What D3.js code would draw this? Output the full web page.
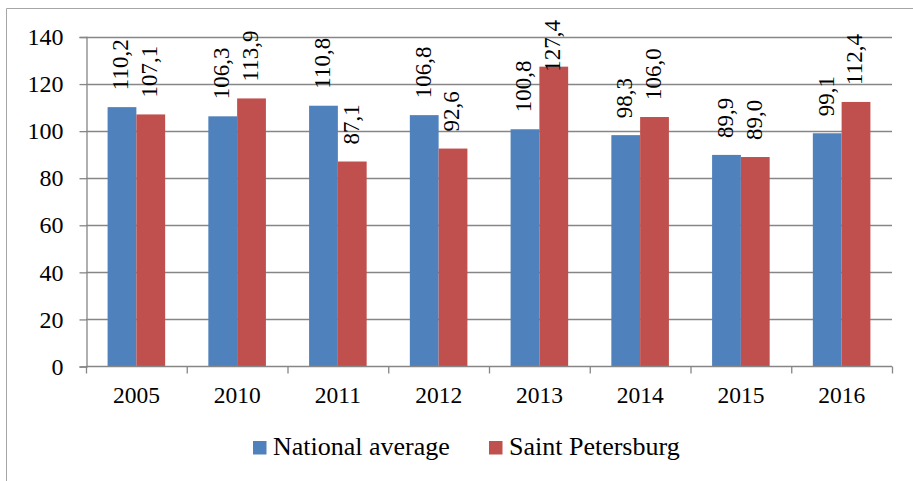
<!DOCTYPE html>
<html>
<head>
<meta charset="utf-8">
<script src="https://cdn.jsdelivr.net/npm/d3@7"></script>
<style>
  body { margin: 0; background: #fff; }
  svg { display: block; }
  svg text { font-family: "Liberation Serif", serif; }
</style>
</head>
<body>
<svg width="913" height="481"></svg>
<script>
const years = ["2005", "2010", "2011", "2012", "2013", "2014", "2015", "2016"];
const nationalAverage = [110.2, 106.3, 110.8, 106.8, 100.8, 98.3, 89.9, 99.1];
const saintPetersburg = [107.1, 113.9, 87.1, 92.6, 127.4, 106.0, 89.0, 112.4];
const seriesNames = ["National average", "Saint Petersburg"];
const yTicks = [0, 20, 40, 60, 80, 100, 120, 140];

const colors = ["#4F81BD", "#C0504D"];
const series = [nationalAverage, saintPetersburg];
const serif = "'Liberation Serif', serif";

const svg = d3.select("svg");
const ru = d3.formatLocale({decimal: ",", thousands: " ", grouping: [3], currency: ["", ""]});
const fmt = ru.format(".1f");

// outer frame (only left and top visible in the crop)
svg.append("path")
    .attr("d", "M6.5,481V8.5H913")
    .attr("fill", "none")
    .attr("stroke", "#a6a6a6")
    .attr("stroke-width", 1);

const plotLeft = 86, plotRight = 892, plotTop = 37, plotBottom = 366.5;

const y = d3.scaleLinear().domain([0, 140]).range([plotBottom, plotTop]);
const x0 = d3.scaleBand().domain(years).range([plotLeft, plotRight]);
const x1 = d3.scaleBand().domain([0, 1]).range([0, x0.bandwidth()]).paddingOuter(0.75);

// gridlines
svg.append("g")
    .selectAll("line")
    .data(yTicks.filter(t => t > 0))
    .enter().append("line")
    .attr("x1", plotLeft).attr("x2", plotRight)
    .attr("y1", d => Math.round(y(d)) + 0.5).attr("y2", d => Math.round(y(d)) + 0.5)
    .attr("stroke", "#868686")
    .attr("stroke-width", 1.3);

// bars
const groups = svg.append("g")
    .selectAll("g")
    .data(years)
    .enter().append("g")
    .attr("transform", d => `translate(${x0(d)},0)`);

groups.selectAll("rect")
    .data((d, i) => series.map((s, k) => ({k: k, v: s[i]})))
    .enter().append("rect")
    .attr("x", d => x1(d.k))
    .attr("width", x1.bandwidth())
    .attr("y", d => y(d.v))
    .attr("height", d => y(0) - y(d.v))
    .attr("fill", d => colors[d.k]);

// value labels, rotated; pushed down when they would run off the top
const labels = groups.selectAll("text")
    .data((d, i) => series.map((s, k) => ({k: k, v: s[i]})))
    .enter().append("text")
    .attr("dy", "0.28em")
    .style("font-family", serif)
    .style("font-size", "23px")
    .attr("fill", "#000")
    .text(d => fmt(d.v));
labels.attr("transform", function(d) {
    const len = this.getComputedTextLength();
    const start = Math.max(y(d.v) - 17, 20 + len);
    return `translate(${x1(d.k) + x1.bandwidth() / 2},${start}) rotate(-90)`;
});

// y axis
const yAxis = svg.append("g")
    .attr("transform", `translate(${plotLeft + 0.5},0)`)
    .call(d3.axisLeft(y).tickValues(yTicks).tickSize(7).tickPadding(16));
yAxis.select(".domain").attr("stroke", "#868686").attr("stroke-width", 1.3);
yAxis.selectAll(".tick line").attr("stroke", "#868686").attr("stroke-width", 1.3);
yAxis.selectAll("text")
    .style("font-family", serif).style("font-size", "24px").attr("fill", "#000");

// x axis
const xAxis = svg.append("g")
    .attr("transform", `translate(0,${plotBottom})`)
    .call(d3.axisBottom(x0).tickSize(0).tickPadding(20));
xAxis.select(".domain").remove();
xAxis.append("line")
    .attr("x1", plotLeft).attr("x2", plotRight)
    .attr("stroke", "#868686").attr("stroke-width", 1.3);
xAxis.selectAll(".sep")
    .data(years.map(d => x0(d)).concat([plotRight]))
    .enter().append("line")
    .attr("class", "sep")
    .attr("x1", d => d + 0.5).attr("x2", d => d + 0.5)
    .attr("y1", 0).attr("y2", 7)
    .attr("stroke", "#868686").attr("stroke-width", 1.3);
xAxis.selectAll("text")
    .style("font-family", serif).style("font-size", "23.5px").attr("fill", "#000");

// legend
const legendX = [253, 489];
const legend = svg.append("g")
    .selectAll("g")
    .data(seriesNames)
    .enter().append("g")
    .attr("transform", (d, i) => `translate(${legendX[i]},441)`);
legend.append("rect")
    .attr("width", 13.5).attr("height", 13.5)
    .attr("fill", (d, i) => colors[i]);
legend.append("text")
    .attr("x", 20).attr("y", 14)
    .style("font-family", serif)
    .style("font-size", "26px")
    .attr("fill", "#000")
    .text(d => d);
</script>
</body>
</html>
